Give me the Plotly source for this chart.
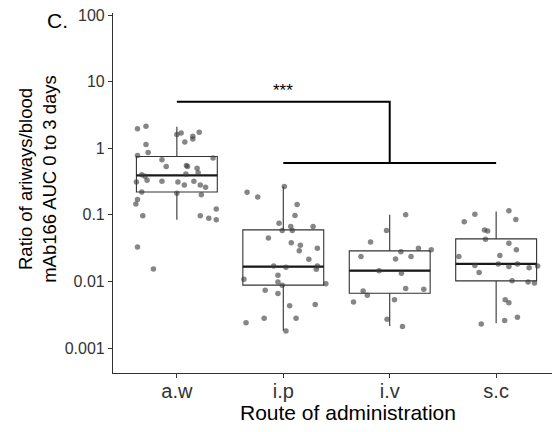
import math
import plotly.graph_objects as go

categories = ["a.w", "i.p", "i.v", "s.c"]

aw_vals = [1.96, 2.13, 1.14, 0.86, 0.78, 0.67, 0.53, 1.6, 1.69, 1.24, 1.37, 1.51, 1.73, 0.55, 0.53,
           0.50, 0.43, 0.71, 0.40, 0.38, 0.33, 0.31, 0.32, 0.31, 0.28, 0.41, 0.32, 0.28, 0.26, 0.21,
           0.22, 0.17, 0.146, 0.097, 0.20, 0.097, 0.089, 0.084, 0.122, 0.033, 0.0154]
aw_jit = [-0.37, -0.29, -0.29, -0.27, -0.37, -0.14, -0.10, 0.0, 0.04, 0.075, 0.15, 0.15, 0.21, 0.09, 0.10,
          0.19, 0.20, 0.34, -0.33, -0.30, -0.28, -0.38, -0.14, 0.01, 0.07, 0.085, 0.16, 0.22, 0.27, 0.0,
          -0.33, -0.37, -0.385, -0.32, 0.23, 0.22, 0.30, 0.37, 0.37, -0.37, -0.22]

ip_vals = [0.267, 0.219, 0.185, 0.143, 0.098, 0.075, 0.058, 0.067, 0.058, 0.067, 0.045, 0.038, 0.035,
           0.0288, 0.0316, 0.0216, 0.0171, 0.0163, 0.0171, 0.0152, 0.0108, 0.0124, 0.0098, 0.0088,
           0.0092, 0.0074, 0.0066, 0.0043, 0.0045, 0.0024, 0.0028, 0.0028, 0.0018]
ip_jit = [0.01, -0.34, -0.24, 0.13, 0.11, -0.04, -0.01, 0.07, 0.085, 0.28, -0.14, 0.075, 0.16, 0.15,
          0.32, 0.24, -0.09, 0.025, 0.32, 0.31, -0.37, -0.05, -0.05, -0.01, 0.40, -0.17, -0.05, 0.06,
          0.30, -0.35, -0.18, 0.12, 0.025]

iv_vals = [0.1, 0.058, 0.039, 0.0316, 0.0236, 0.0278, 0.0218, 0.0236, 0.0145, 0.0133, 0.0078, 0.0072,
           0.0062, 0.0049, 0.0053, 0.0027, 0.0021, 0.0298, 0.0076]
iv_jit = [0.15, -0.03, -0.18, 0.27, -0.27, 0.105, 0.055, 0.20, -0.10, 0.11, 0.15, -0.25, -0.21, -0.34,
          0.045, -0.025, 0.12, 0.39, 0.32]

sc_vals = [0.102, 0.0785, 0.115, 0.085, 0.059, 0.057, 0.043, 0.0375, 0.0298, 0.0245, 0.0236, 0.0173,
           0.0182, 0.0167, 0.0183, 0.0136, 0.0102, 0.0098, 0.0053, 0.0048, 0.0029, 0.0026, 0.0023,
           0.0160, 0.0171, 0.0095]
sc_jit = [-0.2, -0.30, 0.12, 0.185, -0.11, -0.08, -0.10, 0.12, 0.19, 0.035, -0.35, -0.2, 0.02, 0.12,
          0.2, -0.16, 0.15, 0.30, 0.085, 0.12, 0.2, 0.08, -0.14, 0.31, 0.39, 0.36]

q1 = [0.22, 0.0088, 0.00665, 0.0102]
median = [0.39, 0.0167, 0.0145, 0.0183]
q3 = [0.75, 0.0594, 0.0288, 0.0435]
lowerfence = [0.084, 0.00182, 0.00214, 0.00235]
upperfence = [2.1, 0.267, 0.1, 0.112]

bracket_upper = 5.0
bracket_lower = 0.6
star_level = 7.3

y_tickvals = [0.001, 0.01, 0.1, 1, 10, 100]
y_ticktext = ["0.001", "0.01", "0.1", "1", "10", "100"]

groups = [(aw_vals, aw_jit), (ip_vals, ip_jit), (iv_vals, iv_jit), (sc_vals, sc_jit)]

FONT = "Liberation Sans, Arial, sans-serif"
BOXW = 0.76
fig = go.Figure()

fig.add_trace(go.Box(
    x=list(range(len(categories))), q1=q1, median=median, q3=q3,
    lowerfence=lowerfence, upperfence=upperfence,
    width=BOXW, whiskerwidth=0, boxpoints=False,
    line=dict(color="#333333", width=1.1), fillcolor="rgba(255,255,255,0)",
    showlegend=False, hoverinfo="skip"))

for i, m in enumerate(median):
    fig.add_trace(go.Scatter(x=[i - BOXW / 2, i + BOXW / 2], y=[m, m], mode="lines",
                             line=dict(color="#1a1a1a", width=2.3), showlegend=False, hoverinfo="skip"))

for i, (vals, jit) in enumerate(groups):
    fig.add_trace(go.Scatter(
        x=[i + j for j in jit], y=vals, mode="markers",
        marker=dict(size=5.5, color="rgba(60,60,60,0.62)", line=dict(width=0)),
        showlegend=False, hoverinfo="skip"))

# significance bracket
fig.add_trace(go.Scatter(x=[0, 2, 2], y=[bracket_upper, bracket_upper, bracket_lower], mode="lines",
                         line=dict(color="black", width=2), showlegend=False, hoverinfo="skip"))
fig.add_trace(go.Scatter(x=[1, 3], y=[bracket_lower, bracket_lower], mode="lines",
                         line=dict(color="black", width=2), showlegend=False, hoverinfo="skip"))

fig.add_annotation(x=1, y=math.log10(star_level), text="***", showarrow=False,
                   font=dict(family=FONT, size=17, color="black"), xref="x", yref="y")

fig.add_annotation(xref="paper", yref="paper", x=-0.168, y=0.539,
                   text="Ratio of ariways/blood<br>mAb166 AUC 0 to 3 days", textangle=-90,
                   showarrow=False, font=dict(family=FONT, size=18.5, color="black"),
                   xanchor="center", yanchor="middle")
fig.add_annotation(xref="paper", yref="paper", x=0.526, y=-0.111,
                   text="Route of administration", showarrow=False,
                   font=dict(family=FONT, size=21, color="black"),
                   xanchor="center", yanchor="middle")
fig.add_annotation(xref="paper", yref="paper", x=-0.125, y=0.98,
                   text="C.", showarrow=False,
                   font=dict(family=FONT, size=21, color="black"),
                   xanchor="center", yanchor="middle")

fig.update_layout(
    width=552, height=424,
    margin=dict(l=105, r=0, t=5, b=59),
    paper_bgcolor="white", plot_bgcolor="white",
    xaxis=dict(range=[-0.6, 3.6], tickvals=list(range(len(categories))), ticktext=categories,
               showgrid=False, zeroline=False, showline=True, linecolor="#333333", linewidth=1.1,
               ticks="outside", ticklen=4, tickcolor="#333333", ticklabelstandoff=-4,
               tickfont=dict(family=FONT, size=20, color="#333333")),
    yaxis=dict(type="log", range=[math.log10(0.000422), 2.03], tickvals=y_tickvals, ticktext=y_ticktext,
               showgrid=False, zeroline=False, showline=True, linecolor="#333333", linewidth=1.1,
               ticks="outside", ticklen=4, tickcolor="#333333", ticklabeloverflow="allow",
               tickfont=dict(family=FONT, size=16, color="#333333")),
)

fig.write_html("out.html")
